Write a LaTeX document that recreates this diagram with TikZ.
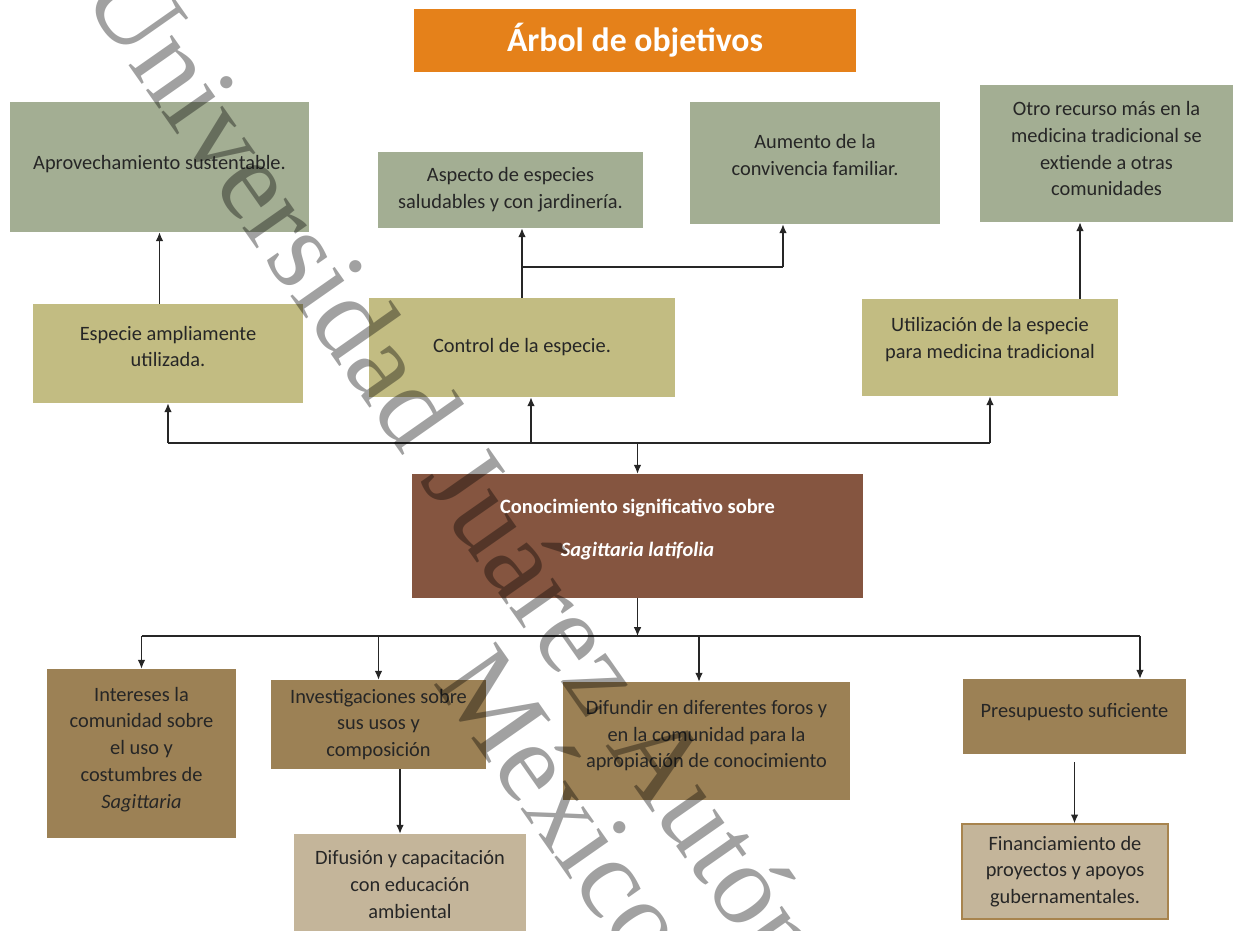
\documentclass[tikz,border=0pt]{standalone}
\usepackage{fontspec}
\setmainfont{Carlito}
\newfontfamily\wmfont{Liberation Serif}
\usepackage{xcolor}
\usetikzlibrary{arrows.meta,positioning}
\definecolor{titleorange}{HTML}{E5811A}
\definecolor{endgreen}{HTML}{A3AE93}
\definecolor{meankhaki}{HTML}{C2BC82}
\definecolor{corebrown}{HTML}{855540}
\definecolor{causetan}{HTML}{9C8155}
\definecolor{leaftan}{HTML}{C4B59A}
\definecolor{leafedge}{HTML}{A8844E}
\tikzset{>={Latex[length=2.2mm,width=1.9mm]},
  box/.style={rectangle,inner sep=2pt,align=center,text=black!85,
    font=\fontsize{14.5}{19}\selectfont},
  lift/.style={text depth=#1},
  ends/.style={box,fill=endgreen},
  means/.style={box,fill=meankhaki},
  causes/.style={box,fill=causetan},
  roots/.style={box,fill=leaftan},
  link/.style={draw=black!85,line width=0.9pt},
  wmark/.style={font=\wmfont\fontsize{82}{70}\selectfont,text=black,
    text opacity=0.37,rotate=-55,inner sep=0pt,anchor=base west}}

\begin{document}
\begin{tikzpicture}[x=0.025cm,y=-0.025cm]
    \useasboundingbox (0,0) rectangle (1233,930);

    \node[box,fill=titleorange,text=white,font=\bfseries\fontsize{24}{28}\selectfont,
        minimum width=11.05cm,minimum height=1.575cm] (title) at (635,40.5) {Árbol de objetivos};

    % fines
    \node[ends,lift=7pt,minimum width=7.475cm,minimum height=3.25cm] (a1) at (159.5,167) {Aprovechamiento sustentable.};
    \node[ends,minimum width=6.625cm,minimum height=1.9cm] (a2) at (510.5,190) {Aspecto de especies\\saludables y con jardinería.};
    \node[ends,lift=11pt,minimum width=6.25cm,minimum height=3.05cm] (a3) at (815,163) {Aumento de la\\convivencia familiar.};
    \node[ends,lift=7pt,minimum width=6.325cm,minimum height=3.425cm] (a4) at (1106.5,153.5) {Otro recurso más en la\\medicina tradicional se\\extiende a otras\\comunidades};

    % medios
    \node[means,lift=10pt,minimum width=6.75cm,minimum height=2.475cm] (m1) at (168,353.5) {Especie ampliamente\\utilizada.};
    \node[means,minimum width=7.65cm,minimum height=2.475cm] (m2) at (522,347.5) {Control de la especie.};
    \node[means,lift=14pt,minimum width=6.4cm,minimum height=2.425cm] (m3) at (990,347.5) {Utilización de la especie\\para medicina tradicional};

    \node[box,lift=11.5pt,fill=corebrown,text=white,font=\bfseries\fontsize{14.5}{19}\selectfont,
        minimum width=11.275cm,minimum height=3.1cm] (k) at (637.5,536) {Conocimiento significativo sobre\\[12pt]\textit{Sagittaria latifolia}};

    % acciones
    \node[causes,lift=8.5pt,minimum width=4.725cm,minimum height=4.225cm] (b1) at (141.5,753.5) {Intereses la\\comunidad sobre\\el uso y\\costumbres de\\\textit{Sagittaria}};
    \node[causes,minimum width=5.375cm,minimum height=2.225cm] (b2) at (378.5,724.5) {Investigaciones sobre\\sus usos y\\composición};
    \node[causes,lift=10pt,minimum width=7.175cm,minimum height=2.95cm] (b3) at (706.5,741) {Difundir en diferentes foros y\\en la comunidad para la\\apropiación de conocimiento};
    \node[causes,lift=8.5pt,minimum width=5.575cm,minimum height=1.875cm] (b4) at (1074.5,716.5) {Presupuesto suficiente};
    \node[roots,minimum width=5.8cm,minimum height=2.525cm] (c1) at (410,884.5) {Difusión y capacitación\\con educación\\ambiental};
    \node[roots,draw=leafedge,line width=1pt,minimum width=5.15cm,minimum height=2.375cm] (c2) at (1065,871.5) {Financiamiento de\\proyectos y apoyos\\gubernamentales.};

    \coordinate (fork) at (783,267);
    \coordinate (medx) at (1080,0);
    \coordinate (busup) at (636,443);
    \coordinate (upc) at (531,443);
    \coordinate (busdn) at (636,636);
    \coordinate (forum) at (699,636);
    \coordinate (budget) at (1140,636);
    \coordinate (spread) at (400,0);

    \draw[link,->] (a1.south |- m1.north) -- (a1.south);
    \draw[link,->] (m2.north) -- (m2.north |- a2.south);
    \draw[link] (m2.north |- fork) -- (fork);
    \draw[link,->] (fork) -- (fork |- a3.south);
    \draw[link,->] (medx |- m3.north) -- (medx |- a4.south);

    \draw[link] (m1.south |- busup) -- (m3.south |- busup);
    \draw[link,->] (m1.south |- busup) -- (m1.south);
    \draw[link,->] (upc) -- (upc |- m2.south);
    \draw[link,->] (m3.south |- busup) -- (m3.south);
    \draw[link,->] (k.north |- busup) -- (k.north);

    \draw[link,->] (k.south) -- (k.south |- busdn);
    \draw[link] (b1.north |- busdn) -- (budget);
    \draw[link,->] (b1.north |- busdn) -- (b1.north);
    \draw[link,->] (b2.north |- busdn) -- (b2.north);
    \draw[link,->] (forum) -- (forum |- b3.north);
    \draw[link,->] (budget) -- (budget |- b4.north);
    \draw[link,->] (spread |- b2.south) -- (spread |- c1.north);
    \draw[link,->,shorten <=5.5pt] (b4.south) -- (b4.south |- c2.north);

    % marca de agua
    \node[wmark] (wm1) at (80,-5) {Universidad Juárez Autónoma};
    \node[wmark] (wm2) at (432,682) {México};
\end{tikzpicture}
\end{document}
